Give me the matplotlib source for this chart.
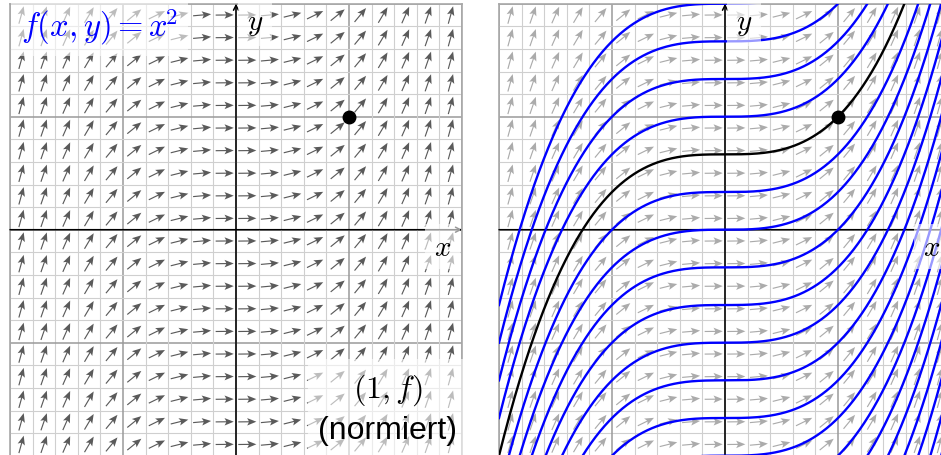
import numpy as np
import matplotlib.pyplot as plt

plt.rcParams['mathtext.fontset'] = 'cm'

# Window and grid of the slope field
x_limits = (-2.0, 2.0)
y_limits = (-2.0, 2.0)
grid_step = 0.2
arrow_length = 0.16

# Marked initial value and the constants of the solution family y = x^3/3 + c
marked_point = (1.0, 1.0)
highlight_offset = 2 / 3
solution_offsets = [-13/3, -12/3, -11/3, -10/3, -9/3, -8/3, -7/3, -6/3, -5/3,
                    -4/3, -3/3, -2/3, -1/3, 0.0, 1/3, 3/3, 4/3, 5/3, 6/3]

field_label = r'$f(x,y) = x^{\!2}$'
arrow_label = '$(1,f)$\n(normiert)'


def f(x, y):
    return x ** 2


def solution(x, c):
    return x ** 3 / 3 + c


W, H = 941, 456
fig = plt.figure(figsize=(W / 100, H / 100), dpi=100)
ax_left = fig.add_axes([10 / W, -0.7 / H, 452 / W, 452 / H])
ax_right = fig.add_axes([499 / W, -0.7 / H, 452 / W, 452 / H])

box = dict(boxstyle='square,pad=0.3', fc='white', ec='none', alpha=0.6)


def base_panel(ax, arrow_color):
    ax.set_xlim(*x_limits)
    ax.set_ylim(*y_limits)
    ax.set_xticks([])
    ax.set_yticks([])
    for s in ax.spines.values():
        s.set_color('#a8a8a8')
        s.set_linewidth(1.2)
    # grid: fine lines every 0.2, darker lines at integers
    lines = np.arange(x_limits[0], x_limits[1] + 1e-9, grid_step)
    for v in lines:
        major = abs(v - round(v)) < 1e-6
        col = '#9a9a9a' if major else '#cfcfcf'
        lw = 1.1 if major else 0.8
        ax.axvline(v, color=col, lw=lw, zorder=0)
        ax.axhline(v, color=col, lw=lw, zorder=0)
    # normalised direction field (1, f) at cell centres
    centres = lines[:-1] + grid_step / 2
    X, Y = np.meshgrid(centres, centres)
    S = f(X, Y)
    n = np.sqrt(1 + S ** 2)
    U = arrow_length / n
    V = arrow_length * S / n
    ax.quiver(X, Y, U, V, angles='xy', scale_units='xy', scale=1,
              pivot='middle', units='dots', width=1.15, headwidth=6.5,
              headlength=8, headaxislength=6.5, color=arrow_color, zorder=2)
    # coordinate axes with arrow tips
    ax.annotate('', xy=(x_limits[1], 0), xytext=(x_limits[0], 0),
                arrowprops=dict(arrowstyle='->,head_length=0.35,head_width=0.18',
                                lw=1.1, color='black', shrinkA=0, shrinkB=0),
                zorder=4, annotation_clip=False)
    ax.annotate('', xy=(0, y_limits[1]), xytext=(0, y_limits[0]),
                arrowprops=dict(arrowstyle='->,head_length=0.35,head_width=0.18',
                                lw=1.1, color='black', shrinkA=0, shrinkB=0),
                zorder=4, annotation_clip=False)
    ax.text(0.17, 1.83, '$y$', fontsize=21, ha='center', va='center',
            bbox=box, zorder=6)
    ax.text(1.83, -0.15, '$x$', fontsize=21, ha='center', va='center',
            bbox=box, zorder=6)


# left: slope field
base_panel(ax_left, '#5a5a5a')
ax_left.plot(*marked_point, 'o', color='black', ms=9, zorder=7)
ax_left.text(-1.21, 1.80, field_label, fontsize=23.5, color='blue',
             ha='center', va='center', bbox=box, zorder=6)
ax_left.text(1.34, -1.58, arrow_label, fontsize=23, ha='center', va='center',
             multialignment='center', linespacing=1.35,
             family=['Liberation Sans', 'DejaVu Sans'], bbox=box, zorder=6)

# right: slope field with solution curves
base_panel(ax_right, '#ababab')
xs = np.linspace(x_limits[0], x_limits[1], 600)
for c in solution_offsets:
    ax_right.plot(xs, solution(xs, c), color='blue', lw=1.7, zorder=5)
ax_right.plot(xs, solution(xs, highlight_offset), color='black', lw=1.7, zorder=5)
ax_right.plot(*marked_point, 'o', color='black', ms=9, zorder=7)

fig.savefig('out.png', dpi=100)
